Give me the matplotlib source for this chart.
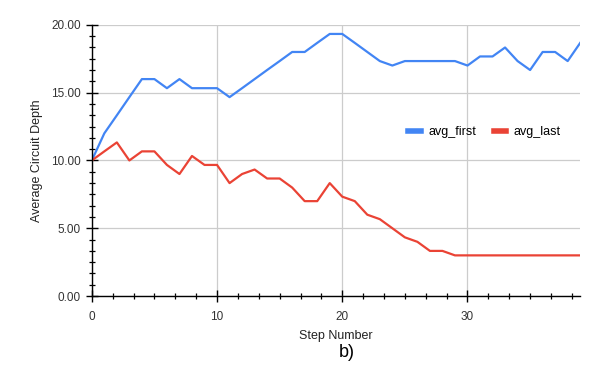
import matplotlib.pyplot as plt
import numpy as np
from matplotlib.ticker import MultipleLocator

plt.rcParams['font.family'] = ['Liberation Sans', 'DejaVu Sans']

# data (steps 0..39)
steps = list(range(40))
avg_first = [10.00, 12.00, 13.33, 14.67, 16.00, 16.00, 15.33, 16.00, 15.33, 15.33,
             15.33, 14.67, 15.33, 16.00, 16.67, 17.33, 18.00, 18.00, 18.67, 19.33,
             19.33, 18.67, 18.00, 17.33, 17.00, 17.33, 17.33, 17.33, 17.33, 17.33,
             17.00, 17.67, 17.67, 18.33, 17.33, 16.67, 18.00, 18.00, 17.33, 18.67]
avg_last = [10.00, 10.67, 11.33, 10.00, 10.67, 10.67, 9.67, 9.00, 10.33, 9.67,
            9.67, 8.33, 9.00, 9.33, 8.67, 8.67, 8.00, 7.00, 7.00, 8.33,
            7.33, 7.00, 6.00, 5.67, 5.00, 4.33, 4.00, 3.33, 3.33, 3.00,
            3.00, 3.00, 3.00, 3.00, 3.00, 3.00, 3.00, 3.00, 3.00, 3.00]

fig = plt.figure(figsize=(6, 3.71), dpi=100)
ax = fig.add_axes([0.153, 0.202, 0.814, 0.731])

ax.plot(steps, avg_first, color='#4285F4', lw=1.6, label='avg_first')
ax.plot(steps, avg_last, color='#EA4335', lw=1.6, label='avg_last')

ax.set_xlim(0, 39)
ax.set_ylim(0, 20)
ax.xaxis.set_major_locator(MultipleLocator(10))
ax.xaxis.set_minor_locator(MultipleLocator(10 / 6))
ax.yaxis.set_major_locator(MultipleLocator(5))
ax.yaxis.set_minor_locator(MultipleLocator(5 / 6))
ax.yaxis.set_major_formatter(plt.FormatStrFormatter('%.2f'))

ax.grid(True, which='major', color='#cccccc', lw=0.9)
ax.set_axisbelow(True)
for s in ['top', 'right']:
    ax.spines[s].set_visible(False)
for s in ['left', 'bottom']:
    ax.spines[s].set_color('black')
    ax.spines[s].set_linewidth(1.0)

ax.tick_params(which='major', direction='inout', length=8, width=1.0,
               labelsize=8.5, labelcolor='#333333', pad=4)
ax.tick_params(axis='x', which='major', pad=6.5)
ax.tick_params(which='minor', direction='inout', length=5, width=0.9)

ax.set_xlabel('Step Number', fontsize=9, color='#222222', labelpad=5)
ax.set_ylabel('Average Circuit Depth', fontsize=9, color='#222222', labelpad=6)

ax.legend(loc='center left', bbox_to_anchor=(0.625, 0.605), ncol=2, frameon=False,
          fontsize=9, handlelength=1.0, handletextpad=0.6, columnspacing=1.4)
for h in ax.get_legend().legend_handles:
    h.set_linewidth(4)

fig.text(0.578, 0.049, 'b)', fontsize=13, ha='center', va='center')

fig.savefig('out.png', dpi=100)
